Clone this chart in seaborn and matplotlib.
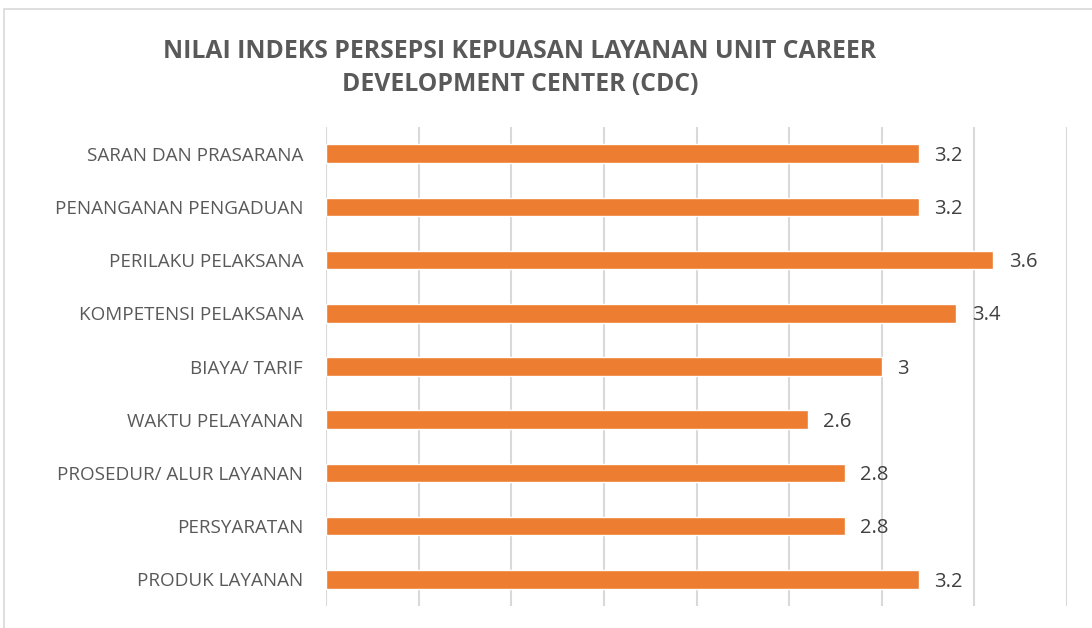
import matplotlib
matplotlib.use("Agg")
import matplotlib.pyplot as plt
import seaborn as sns
import pandas as pd
from matplotlib.patches import Rectangle

categories = ["SARAN DAN PRASARANA", "PENANGANAN PENGADUAN", "PERILAKU PELAKSANA",
              "KOMPETENSI PELAKSANA", "BIAYA/ TARIF", "WAKTU PELAYANAN",
              "PROSEDUR/ ALUR LAYANAN", "PERSYARATAN", "PRODUK LAYANAN"]
values = [3.2, 3.2, 3.6, 3.4, 3.0, 2.6, 2.8, 2.8, 3.2]
value_labels = ["3.2", "3.2", "3.6", "3.4", "3", "2.6", "2.8", "2.8", "3.2"]
title = "NILAI INDEKS PERSEPSI KEPUASAN LAYANAN UNIT CAREER\nDEVELOPMENT CENTER (CDC)"

sns.set_theme(style="white")
plt.rcParams['font.family'] = ['Open Sans', 'DejaVu Sans']

df = pd.DataFrame({"cat": categories, "val": values})

fig = plt.figure(figsize=(10.92, 6.28), dpi=100)
ax = fig.add_axes([326/1092, 22/628, (1067-326)/1092, (501-22)/628])

sns.barplot(data=df, y="cat", x="val", orient="h", color="#ED7D31",
            width=0.35, saturation=1, ax=ax, zorder=3)

ax.set_xlim(0, 4)
ax.set_xticks([i * 0.5 for i in range(9)])
ax.xaxis.grid(True, color="#D9D9D9", linewidth=1.5, zorder=0)
ax.yaxis.grid(False)
ax.set_xticklabels([])
ax.tick_params(axis="x", length=0)
ax.tick_params(axis="y", length=0, pad=16.5, labelsize=13.6, labelcolor="#595959")
ax.set_xlabel("")
ax.set_ylabel("")
for s in ax.spines.values():
    s.set_visible(False)

for i, (v, lab) in enumerate(zip(values, value_labels)):
    ax.text(v + 0.085, i + 0.04, lab, va="center", ha="left", fontsize=14.5, color="#404040")

fig.text(520/1092, 1 - 68/628, title, ha="center", va="center", fontsize=17.8,
         fontweight="bold", color="#595959", linespacing=1.45)

fig.patches.append(Rectangle((4/1092, -0.1), 1.2, 1 - 9/628 + 0.1,
                             transform=fig.transFigure, fill=False,
                             edgecolor="#D9D9D9", linewidth=1.2))

fig.savefig("out.png", dpi=100)
